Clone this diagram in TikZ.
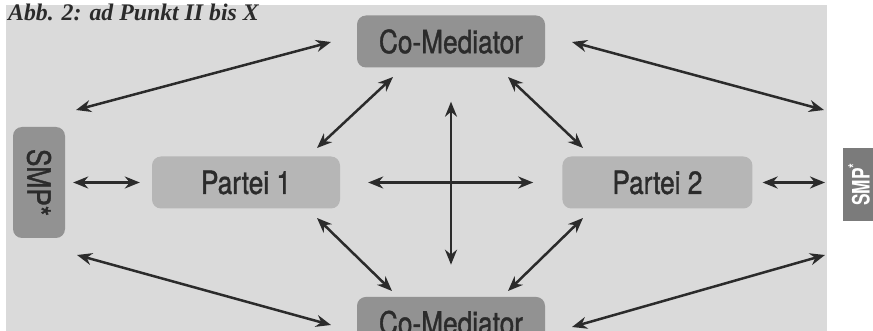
\documentclass[tikz,border=0pt]{standalone}
\usepackage{fontspec}
\setmainfont{Liberation Serif}
\newfontfamily\condfont[FakeStretch=0.82,FakeBold=1.2]{TeX Gyre Heros}
\newfontfamily\condbold[FakeStretch=0.72]{TeX Gyre Heros}
\usetikzlibrary{arrows.meta,positioning}
\definecolor{scan}{HTML}{DADADA}
\definecolor{medgray}{HTML}{929292}
\definecolor{partgray}{HTML}{B6B6B6}
\definecolor{smpgray}{HTML}{7B7B7B}
\definecolor{inkgray}{HTML}{2B2B2B}
\tikzset{
  blk/.style={rectangle,rounded corners=9pt,minimum width=188pt,minimum height=52pt,inner sep=0pt,text=inkgray,font=\condfont\fontsize{32}{36}\selectfont},
  medblk/.style={blk,fill=medgray},
  partblk/.style={blk,fill=partgray},
  smpblk/.style={blk,fill=medgray,minimum width=111pt,minimum height=52pt},
  tagblk/.style={rectangle,fill=smpgray,minimum width=73pt,minimum height=32pt,inner sep=0pt,text=white,font=\condbold\bfseries\fontsize{24}{28}\selectfont},
  arr/.style={{Stealth[length=15pt,width=12pt]}-{Stealth[length=15pt,width=12pt]},line width=2.5pt,draw=inkgray},
  lbl/.style={font=\bfseries\itshape\fontsize{23.8}{28}\selectfont,text=inkgray,inner sep=0pt,anchor=base west}
}
\begin{document}
\begin{tikzpicture}[x=1pt,y=-1pt]
  \clip (0,0) rectangle (873,331);
  \fill[white] (0,0) rectangle (873,331);
  \fill[scan] (6,5) rectangle (827,331);
  \node[lbl] (title) at (8,21) {Abb. 2: ad Punkt II bis X};

  \node[medblk] (cmtop) at (451,41.5) {Co-Mediator};
  \node[medblk, below=229pt of cmtop] (cmbot) {Co-Mediator};
  \node[partblk] (p1) at (246,182.5) {Partei 1};
  \node[partblk, minimum width=190pt, right=222pt of p1] (p2) {Partei 2};
  \node[smpblk, rotate=-90] (smpl) at (39,182.5) {SMP*};
  \node[tagblk, rotate=90] (smpr) at (859,184.5) {SMP\textsuperscript{*}};

  % free ends
  \coordinate (tla) at (331,42);  \coordinate (tlb) at (76,110);
  \coordinate (tra) at (572,42);  \coordinate (trb) at (824,110);
  \coordinate (bla) at (77,255);  \coordinate (blb) at (331,325);
  \coordinate (bra) at (572,327); \coordinate (brb) at (825,255);
  \coordinate (p2r) at (825,182.5);
  \coordinate (ula) at (393,77);  \coordinate (ulb) at (317,148);
  \coordinate (ura) at (508,77);  \coordinate (urb) at (583,148);
  \coordinate (lla) at (317,218); \coordinate (llb) at (392,291);
  \coordinate (lra) at (583,218); \coordinate (lrb) at (508,291);

  \draw[arr] (tla)--(tlb);
  \draw[arr] (tra)--(trb);
  \draw[arr] (bla)--(blb);
  \draw[arr] (bra)--(brb);
  \draw[arr, shorten <=8pt, shorten >=12pt] (smpl.north)--(p1.west);
  \draw[arr, shorten <=10pt] (p2.east)--(p2r);

  \draw[arr] (ula)--(ulb);
  \draw[arr] (ura)--(urb);
  \draw[arr] (lla)--(llb);
  \draw[arr] (lra)--(lrb);

  \draw[arr, shorten <=34pt, shorten >=32pt] (cmtop)--(cmbot);
  \draw[arr, shorten <=28pt, shorten >=29pt] (p1.east)--(p2.west);
\end{tikzpicture}
\end{document}
